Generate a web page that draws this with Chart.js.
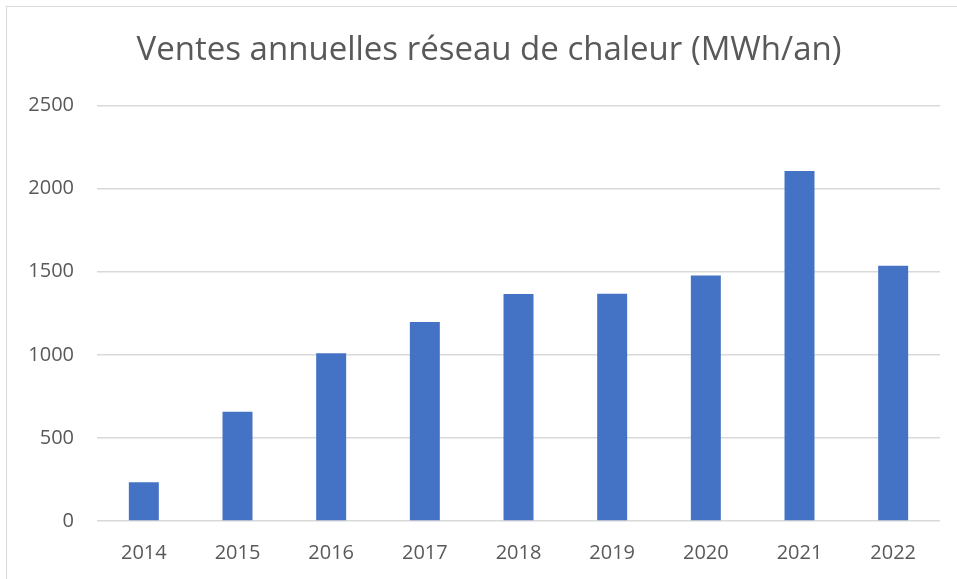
<!DOCTYPE html>
<html lang="fr">
  <head>
    <meta charset="UTF-8" />
    <title>Ventes annuelles réseau de chaleur</title>
    <style>
      html, body { margin: 0; padding: 0; background: #fff; overflow: hidden; }
      #frame {
        position: absolute;
        left: 6px;
        top: 6px;
        width: 970px;
        height: 600px;
        border: 1px solid #d9d9d9;
      }
      #myChart { position: absolute; left: 0; top: 0; }
    </style>
  </head>
  <body>
    <div id="frame"></div>
    <canvas id="myChart" width="957" height="579"></canvas>
    <script src="https://cdn.jsdelivr.net/npm/chart.js@4"></script>
    <script>
      // data
      const years = ["2014", "2015", "2016", "2017", "2018", "2019", "2020", "2021", "2022"];
      const ventes = [233, 657, 1010, 1198, 1366, 1367, 1478, 2106, 1536];
      const yTicks = [0, 500, 1000, 1500, 2000, 2500];

      const grey = "#595959";
      const font = "'Open Sans', 'Noto Sans', sans-serif";

      // the title in the original sits a bit right of the canvas centre
      const shiftTitle = {
        id: "shiftTitle",
        afterLayout: (chart) => {
          if (chart.titleBlock) chart.titleBlock.left = 38;
        },
      };

      const ctx = document.getElementById("myChart").getContext("2d");
      new Chart(ctx, {
        type: "bar",
        data: {
          labels: years,
          datasets: [
            {
              label: "Ventes (MWh/an)",
              data: ventes,
              backgroundColor: "#4472c4",
              borderWidth: 0,
              barPercentage: 1,
              categoryPercentage: 0.32,
            },
          ],
        },
        options: {
          responsive: false,
          animation: false,
          layout: {
            padding: { left: 0, right: 17, top: 0, bottom: 0 },
          },
          scales: {
            x: {
              grid: { display: false },
              border: { display: false },
              ticks: {
                color: grey,
                font: { family: font, size: 20 },
                padding: 12,
              },
              afterFit: (s) => { s.height = 58; },
            },
            y: {
              min: 0,
              max: 2500,
              afterBuildTicks: (s) => { s.ticks = yTicks.map((v) => ({ value: v })); },
              grid: { color: "#d9d9d9", lineWidth: 1.5, drawTicks: false, tickLength: 0 },
              border: { display: false },
              ticks: {
                color: grey,
                font: { family: font, size: 20 },
                padding: 23,
                callback: (v) => String(v), // no thousands separator
              },
              afterFit: (s) => { s.width = 97; },
            },
          },
          plugins: {
            legend: { display: false },
            tooltip: { enabled: false },
            title: {
              display: true,
              text: "Ventes annuelles réseau de chaleur (MWh/an)",
              color: grey,
              font: { family: font, size: 33, weight: "normal" },
              padding: { top: 31, bottom: 35 },
            },
          },
        },
        plugins: [shiftTitle],
      });
    </script>
  </body>
</html>
